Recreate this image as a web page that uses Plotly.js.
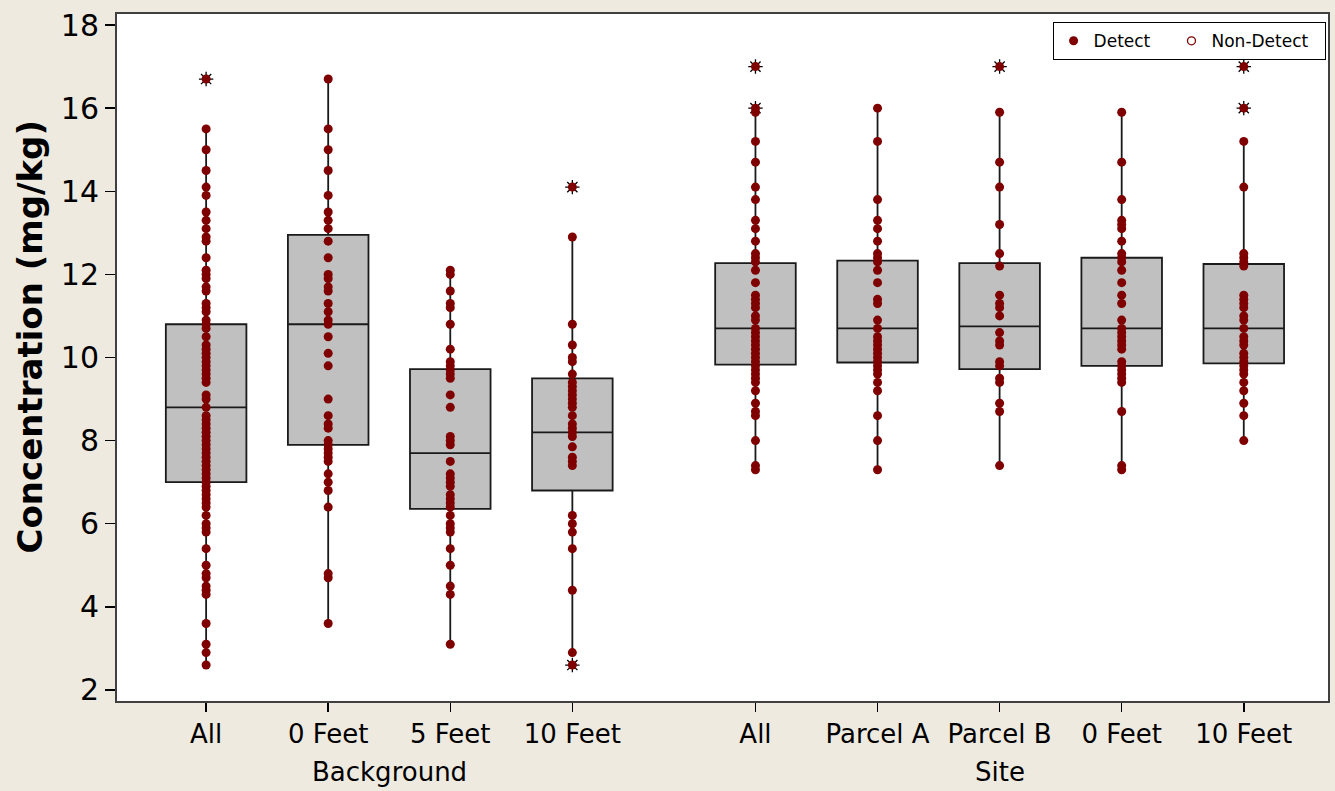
<!DOCTYPE html>
<html>
<head>
<meta charset="utf-8">
<script src="https://cdn.plot.ly/plotly-3.0.1.min.js"></script>
<style>html,body{margin:0;padding:0;background:#EEEAE0;}#chart{width:1335px;height:791px;}</style>
</head>
<body>
<div id="chart"></div>
<script>
// ---- Data ----
const categories = ['All', '0 Feet', '5 Feet', '10 Feet', 'All', 'Parcel A', 'Parcel B', '0 Feet', '10 Feet'];
const groupOf = ['Background', 'Background', 'Background', 'Background', 'Site', 'Site', 'Site', 'Site', 'Site'];
const groupNames = ['Background', 'Site'];
const seriesNames = ['Detect', 'Non-Detect'];
const yTitle = 'Concentration (mg/kg)';

const q1     = [7.0, 7.9, 6.36, 6.8, 9.83, 9.88, 9.72, 9.8, 9.86];
const median = [8.8, 10.8, 7.7, 8.2, 10.7, 10.7, 10.75, 10.7, 10.7];
const q3     = [10.8, 12.95, 9.72, 9.5, 12.27, 12.33, 12.27, 12.4, 12.25];
const lowerWhisker = [2.6, 3.6, 3.1, 2.9, 7.3, 7.3, 7.4, 7.3, 8.0];
const upperWhisker = [15.5, 16.7, 12.1, 12.9, 15.9, 16.0, 15.9, 15.9, 15.2];

// Detected sample values per box
const bgAll = [15.5, 15.0, 14.5, 14.1, 13.9, 13.5, 13.3, 13.1, 12.9, 12.8, 12.4, 12.1, 12.0, 11.9, 11.7, 11.6,
  11.3, 11.2, 11.1, 10.9, 10.8, 10.7, 10.5, 10.3, 10.2, 10.1, 10.0, 9.9, 9.8, 9.7, 9.6, 9.5, 9.4, 9.1, 9.0,
  8.8, 8.6, 8.5, 8.4, 8.3, 8.2, 8.1, 8.0, 7.9, 7.8, 7.7, 7.6, 7.5, 7.4, 7.3, 7.2, 7.1, 7.0, 6.9, 6.8, 6.7,
  6.6, 6.5, 6.4, 6.2, 6.0, 5.9, 5.8, 5.4, 5.0, 4.8, 4.7, 4.5, 4.4, 4.3, 3.6, 3.1, 2.9, 2.6, 16.7];
const bg0 = [16.7, 15.5, 15.0, 14.5, 13.9, 13.5, 13.3, 13.1, 12.8, 12.4, 12.0, 11.9, 11.7, 11.6, 11.3, 11.1,
  10.9, 10.8, 10.5, 10.1, 9.8, 9.0, 8.6, 8.4, 8.3, 8.0, 7.9, 7.8, 7.7, 7.6, 7.5, 7.2, 7.0, 6.8, 6.4, 4.8, 4.7, 3.6];
const bg5 = [12.1, 12.0, 11.6, 11.3, 11.2, 10.8, 10.2, 9.9, 9.8, 9.7, 9.6, 9.5, 9.1, 8.8, 8.1, 8.0, 7.9, 7.5,
  7.2, 7.1, 7.0, 6.9, 6.7, 6.6, 6.5, 6.4, 6.2, 6.0, 5.9, 5.8, 5.4, 5.0, 4.5, 4.3, 3.1];
const bg10 = [14.1, 12.9, 10.8, 10.3, 10.0, 9.9, 9.6, 9.4, 9.3, 9.2, 9.1, 9.0, 8.9, 8.8, 8.6, 8.4, 8.3, 8.2,
  8.1, 7.85, 7.6, 7.5, 7.4, 6.2, 6.0, 5.8, 5.4, 4.4, 2.9, 2.6];
const siteAll = [17.0, 16.0, 15.9, 15.2, 14.7, 14.1, 13.8, 13.3, 13.1, 12.8, 12.5, 12.4, 12.3, 12.1, 11.8, 11.5,
  11.4, 11.3, 11.2, 11.0, 10.9, 10.7, 10.6, 10.5, 10.4, 10.3, 10.2, 10.1, 10.0, 9.9, 9.8, 9.7, 9.6, 9.5, 9.4,
  9.2, 8.9, 8.7, 8.6, 8.0, 7.4, 7.3];
const parcelA = [16.0, 15.2, 13.8, 13.3, 13.1, 12.8, 12.5, 12.4, 12.3, 12.1, 11.8, 11.4, 11.3, 10.9, 10.7, 10.5,
  10.4, 10.3, 10.2, 10.1, 10.0, 9.9, 9.8, 9.7, 9.6, 9.4, 9.2, 8.6, 8.0, 7.3];
const parcelB = [17.0, 15.9, 14.7, 14.1, 13.2, 12.5, 12.2, 11.5, 11.3, 11.2, 11.0, 10.6, 10.4, 10.3, 9.9, 9.8,
  9.5, 9.4, 8.9, 8.7, 7.4];
const site0 = [15.9, 14.7, 13.8, 13.3, 13.2, 13.1, 12.8, 12.5, 12.4, 12.3, 12.1, 11.8, 11.5, 11.3, 10.9, 10.7,
  10.6, 10.5, 10.4, 10.3, 10.2, 9.9, 9.8, 9.7, 9.6, 9.5, 9.4, 8.7, 7.4, 7.3];
const site10 = [17.0, 16.0, 15.2, 14.1, 12.5, 12.4, 12.3, 12.2, 11.5, 11.4, 11.3, 11.2, 11.0, 10.9, 10.7, 10.5,
  10.4, 10.3, 10.1, 10.0, 9.9, 9.8, 9.7, 9.6, 9.4, 9.2, 8.9, 8.6, 8.0];

// Outliers flagged with an asterisk
const bgAllOut = [16.7];
const bg0Out = [];
const bg5Out = [];
const bg10Out = [14.1, 2.6];
const siteAllOut = [17.0, 16.0];
const parcelAOut = [];
const parcelBOut = [17.0];
const site0Out = [];
const site10Out = [17.0, 16.0];

// Non-detect values (none in this chart)
const nonDetect = [];

const detectSets = [bgAll, bg0, bg5, bg10, siteAll, parcelA, parcelB, site0, site10];
const outlierSets = [bgAllOut, bg0Out, bg5Out, bg10Out, siteAllOut, parcelAOut, parcelBOut, site0Out, site10Out];

// ---- Layout positions (a gap of half a slot between groups) ----
const pos = categories.map((c, i) => i + (groupOf[i] === 'Site' ? 0.5 : 0));

const dx = [], dy = [];
detectSets.forEach((arr, i) => arr.forEach(v => { dx.push(pos[i]); dy.push(v); }));
const ox = [], oy = [];
outlierSets.forEach((arr, i) => arr.forEach(v => { ox.push(pos[i]); oy.push(v); }));

const red = '#7F0000';
const font = '"DejaVu Sans", Tahoma, sans-serif';
const nb = '\u00a0';

const traces = [
  {
    type: 'box', x: pos, q1: q1, median: median, q3: q3,
    lowerfence: lowerWhisker, upperfence: upperWhisker,
    boxpoints: false, width: 0.66, whiskerwidth: 0,
    fillcolor: '#C0C0C0', line: {color: '#1a1a1a', width: 1.8},
    showlegend: false, hoverinfo: 'skip'
  },
  {
    type: 'scatter', mode: 'markers', x: ox, y: oy,
    marker: {symbol: 'asterisk-open', size: 12, color: '#000', line: {color: '#000', width: 1.3}},
    showlegend: false, hoverinfo: 'skip'
  },
  {
    type: 'scatter', mode: 'markers', x: dx, y: dy, name: seriesNames[0] + nb.repeat(3),
    marker: {symbol: 'circle', size: 9, color: red},
    hoverinfo: 'skip'
  },
  {
    type: 'scatter', mode: 'markers',
    x: nonDetect.length ? nonDetect.map(() => pos[0]) : [null],
    y: nonDetect.length ? nonDetect : [null],
    name: seriesNames[1] + nb.repeat(2),
    marker: {symbol: 'circle-open', size: 8, color: red, line: {color: red, width: 1.3}},
    hoverinfo: 'skip'
  }
];

const groupCenters = groupNames.map(g => {
  const p = pos.filter((v, i) => groupOf[i] === g);
  return (Math.min(...p) + Math.max(...p)) / 2;
});

const annotations = groupNames.map((g, i) => ({
  text: g, x: groupCenters[i], xref: 'x', y: 0, yref: 'paper', yshift: -71,
  showarrow: false, xanchor: 'center', yanchor: 'middle',
  font: {family: font, size: 26, color: '#000'}
}));
annotations.push({
  text: '<b>' + yTitle + '</b>', textangle: -90,
  x: 0, xref: 'paper', xshift: -88, y: 0.5, yref: 'paper', yshift: 20,
  showarrow: false, xanchor: 'center', yanchor: 'middle',
  font: {family: font, size: 34, color: '#000'}
});

const layout = {
  width: 1335, height: 791,
  paper_bgcolor: '#EEEAE0', plot_bgcolor: '#FFFFFF',
  margin: {l: 117, r: 7, t: 14, b: 90},
  font: {family: font, color: '#000', size: 26},
  showlegend: true,
  legend: {
    orientation: 'h', x: 0.998, xanchor: 'right', y: 0.988, yanchor: 'top',
    bgcolor: '#FFFFFF', bordercolor: '#000', borderwidth: 1,
    font: {family: font, size: 17, color: '#000'},
    itemwidth: 30, tracegroupgap: 0
  },
  xaxis: {
    range: [-0.73, 9.19], tickmode: 'array', tickvals: pos, ticktext: categories,
    showgrid: false, zeroline: false, showline: true, mirror: true,
    linecolor: '#404040', linewidth: 2,
    ticks: 'outside', ticklen: 9, tickwidth: 1.5, tickcolor: '#000',
    tickfont: {family: font, size: 26, color: '#000'}
  },
  yaxis: {
    range: [1.735, 18.265], tickmode: 'array', tickvals: [2, 4, 6, 8, 10, 12, 14, 16, 18],
    showgrid: false, zeroline: false, showline: true, mirror: true,
    linecolor: '#404040', linewidth: 2,
    ticks: 'outside', ticklen: 10, tickwidth: 1.5, tickcolor: '#000',
    tickfont: {family: font, size: 30, color: '#000'}
  },
  annotations: annotations
};

Plotly.newPlot('chart', traces, layout, {staticPlot: true, displayModeBar: false});
</script>
</body>
</html>
